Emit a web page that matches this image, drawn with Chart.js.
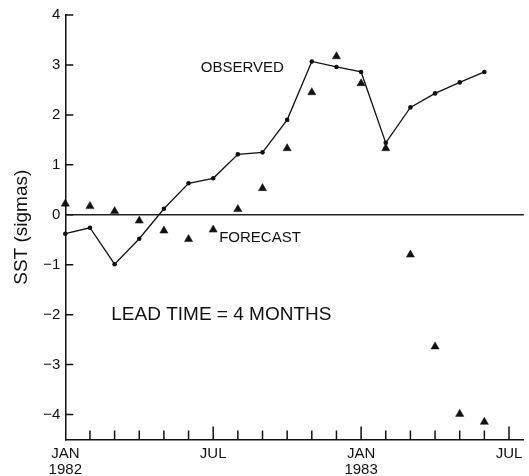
<!DOCTYPE html>
<html><head><meta charset="utf-8">
<script src="https://cdn.jsdelivr.net/npm/chart.js@4"></script>
<style>html,body{margin:0;padding:0;background:#fff}</style>
</head><body>
<canvas id="c" width="529" height="476"></canvas>
<script>
// months since JAN 1982 (0 = JAN 1982 ... 17 = JUN 1983)
const months = [0,1,2,3,4,5,6,7,8,9,10,11,12,13,14,15,16,17];
const observed = [-0.38,-0.26,-0.99,-0.48,0.12,0.63,0.73,1.21,1.25,1.90,3.07,2.96,2.86,1.44,2.15,2.43,2.65,2.86];
const forecast = [0.22,0.17,0.07,-0.12,-0.32,-0.49,-0.30,0.11,0.53,1.33,2.45,3.17,2.63,1.33,-0.80,-2.64,-3.99,-4.15];
const yTickValues = [4,3,2,1,0,-1,-2,-3,-4];
const xLabelValues = [0,6,12,18];
const xLabelText = [['JAN','1982'],['JUL'],['JAN','1983'],['JUL']];
const monthTickValues = [1,2,3,4,5,6,7,8,9,10,11,12,13,14,15,16,17,18];
const majorTickValues = [6,12,18];

const FONT = "'Liberation Sans', Arial, Helvetica, sans-serif";
const INK = '#111';

const inwardTicks = {
  id: 'inwardTicks',
  afterDraw(chart) {
    const {x, y} = chart.scales;
    const ctx = chart.ctx;
    ctx.save();
    ctx.strokeStyle = INK;
    ctx.lineWidth = 1.5;
    ctx.beginPath();
    yTickValues.forEach(v => {
      const py = y.getPixelForValue(v);
      ctx.moveTo(x.left, py); ctx.lineTo(x.left + 8, py);
    });
    monthTickValues.forEach(m => {
      const px = x.getPixelForValue(m);
      const len = majorTickValues.includes(m) ? 13 : 9;
      ctx.moveTo(px, y.bottom); ctx.lineTo(px, y.bottom - len);
    });
    ctx.stroke();
    ctx.restore();
  }
};

const annotations = [
  {text: 'OBSERVED', x: 7.18, y: 2.94, size: 15},
  {text: 'FORECAST', x: 7.9, y: -0.47, size: 15},
  {text: 'LEAD TIME = 4 MONTHS', x: 6.33, y: -2.0, size: 19}
];
const annotationPlugin = {
  id: 'annotationText',
  afterDatasetsDraw(chart) {
    const {x, y} = chart.scales;
    const ctx = chart.ctx;
    ctx.save();
    ctx.fillStyle = INK;
    ctx.textAlign = 'center';
    ctx.textBaseline = 'middle';
    annotations.forEach(a => {
      ctx.font = a.size + 'px ' + FONT;
      ctx.fillText(a.text, x.getPixelForValue(a.x), y.getPixelForValue(a.y));
    });
    ctx.restore();
  }
};

new Chart(document.getElementById('c'), {
  type: 'scatter',
  data: {
    datasets: [
      {
        label: 'OBSERVED',
        data: months.map((m, i) => ({x: m, y: observed[i]})),
        showLine: true,
        clip: false,
        borderColor: INK,
        borderWidth: 1.3,
        pointStyle: 'circle',
        pointRadius: 2.3,
        pointBackgroundColor: INK,
        pointBorderWidth: 0
      },
      {
        label: 'FORECAST',
        data: months.map((m, i) => ({x: m, y: forecast[i]})),
        showLine: false,
        clip: false,
        pointStyle: 'triangle',
        pointRadius: 4.7,
        pointBackgroundColor: INK,
        pointBorderColor: INK,
        pointBorderWidth: 0.5
      }
    ]
  },
  options: {
    responsive: false,
    animation: false,
    layout: {padding: {top: 15, right: 0, left: 0, bottom: 0}},
    plugins: {legend: {display: false}, tooltip: {enabled: false}},
    scales: {
      x: {
        type: 'linear',
        min: 0, max: 18.6,
        afterBuildTicks: s => { s.ticks = xLabelValues.map(v => ({value: v})); },
        afterFit: s => { s.height = 36.5; },
        ticks: {
          autoSkip: false, maxRotation: 0, minRotation: 0,
          padding: 6,
          color: INK,
          font: {family: FONT, size: 15, lineHeight: 1.1},
          callback: v => { const i = xLabelValues.indexOf(v); return i >= 0 ? xLabelText[i] : ''; }
        },
        grid: {display: false, drawTicks: false},
        border: {display: true, color: INK, width: 1.5}
      },
      y: {
        min: -4.5, max: 4,
        afterBuildTicks: s => { s.ticks = yTickValues.map(v => ({value: v})); },
        afterFit: s => { s.width = 65.3; },
        ticks: {
          padding: 5,
          color: INK,
          font: {family: FONT, size: 15},
          callback: v => (v < 0 ? '\u2212' + Math.abs(v) : String(v))
        },
        grid: {
          drawTicks: false,
          lineWidth: 1.5,
          color: c => (c.tick && c.tick.value === 0 ? '#222' : 'rgba(0,0,0,0)')
        },
        border: {display: true, color: INK, width: 1.5},
        title: {
          display: true,
          text: 'SST (sigmas)',
          color: INK,
          font: {family: FONT, size: 19},
          padding: {top: 10, bottom: 0}
        }
      }
    }
  },
  plugins: [inwardTicks, annotationPlugin]
});
</script>
</body></html>
